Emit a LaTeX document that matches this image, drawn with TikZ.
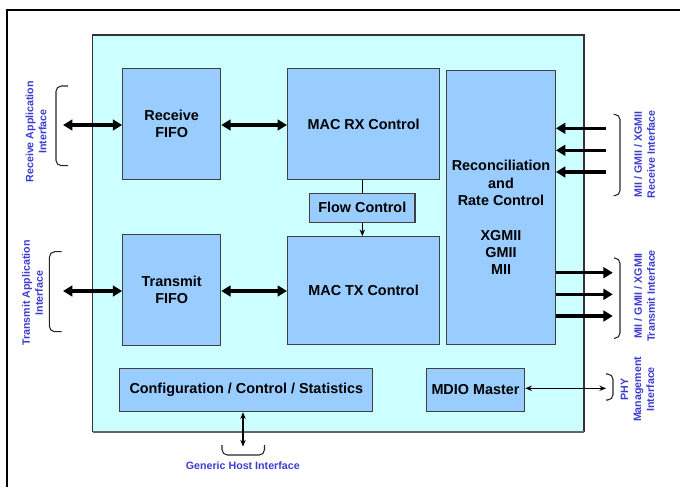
\documentclass[tikz,border=0pt]{standalone}
\usepackage{fontspec}
\setmainfont{Liberation Sans}
\usetikzlibrary{arrows.meta}
\definecolor{corecyan}{RGB}{204,255,255}
\definecolor{blockblue}{RGB}{153,204,255}
\definecolor{labelblue}{RGB}{60,60,210}

\begin{document}
\begin{tikzpicture}[x=0.75pt, y=-0.75pt,
	block/.style 2 args={draw=black!75, fill=blockblue, line width=0.8pt, inner sep=0pt, align=center,
		minimum width=#1*0.75pt, minimum height=#2*0.75pt, font=\fontsize{10.8}{13}\selectfont\bfseries},
	iflabel/.style={text=labelblue, align=center, font=\fontsize{8}{9.75}\selectfont\bfseries},
	bus/.style={line width=2.5pt, {Triangle[length=7pt,width=8pt]}-{Triangle[length=7pt,width=8pt]}},
	busin/.style={line width=2.5pt, -{Triangle[length=7pt,width=8pt]}},
	thin/.style={line width=0.8pt, {Stealth[length=5pt,width=4pt]}-{Stealth[length=5pt,width=4pt]}},
	brace/.style={line width=0.8pt, black!85, rounded corners=4pt}]
	\useasboundingbox (0,0) rectangle (680,487);
	\draw[line width=1.9pt] (7,487) -- (7,10) -- (680,10);
	\draw[draw=black!80, fill=corecyan, line width=1pt] (92.5,35) rectangle (584,431.5);
	\draw[black!60, line width=1.5pt] (92.5,431.5) -- (584,431.5);

	\node[block={98}{110.6}] (rxfifo) at (171.7,124) {Receive\\FIFO};
	\node[block={152.2}{110.6}] (macrx) at (363.6,124) {MAC RX Control};
	\node[block={105.4}{29}] (flow) at (362.3,207.8) {Flow Control};
	\node[block={98}{111}] (txfifo) at (171.7,289.8) {Transmit\\FIFO};
	\node[block={152.2}{108.3}] (mactx) at (363.6,290.8) {MAC TX Control};
	\node[block={108.8}{274.7}] (recon) at (501,207.6) {};
	\node[font=\fontsize{10.8}{13}\selectfont\bfseries, align=center] (recontext) at (501,217.5) {Reconciliation\\and\\Rate Control\\[13pt]XGMII\\GMII\\MII};
	\node[block={253.3}{43.4}] (config) at (246.3,390) {Configuration / Control / Statistics};
	\node[block={98.4}{43.4}] (mdio) at (475.5,390) {MDIO Master};

	\coordinate (rxapp) at (63,125);
	\coordinate (txapp) at (63,291);
	\coordinate (phy) at (606,388.3);
	\coordinate (host) at (243,446.5);
	\draw[bus] (rxapp) -- (rxfifo.west |- rxapp);
	\draw[bus] (rxfifo.east |- rxapp) -- (macrx.west |- rxapp);
	\draw[bus] (txapp) -- (txfifo.west |- txapp);
	\draw[bus] (txfifo.east |- txapp) -- (mactx.west |- txapp);
	\draw[line width=0.8pt] (flow.north |- macrx.south) -- (flow.north);
	\draw[line width=0.8pt, -{Stealth[length=5pt,width=4pt]}] (flow.south) -- (flow.south |- mactx.north);
	\foreach \y in {128.3,150.3,172} {
		\coordinate (mrx) at (606,\y);
		\draw[busin] (mrx) -- (recon.east |- mrx);
	}
	\foreach \y in {272.7,294.3,316} {
		\coordinate (mtx) at (612.8,\y);
		\draw[busin] (recon.east |- mtx) -- (mtx);
	}
	\draw[thin] (mdio.east |- phy) -- (phy);
	\draw[thin] (host |- config.south) -- (host);

	\draw[brace] (68,86) -- (56,86) -- (56,165.7) -- (68,165.7);
	\draw[brace] (61.6,251.7) -- (49.4,251.7) -- (49.4,331.7) -- (61.6,331.7);
	\draw[brace] (613.6,114.3) -- (620,114.3) -- (620,195.7) -- (613.6,195.7);
	\draw[brace] (614,258) -- (620,258) -- (620,338.3) -- (614,338.3);
	\draw[brace] (606,374) -- (613,374) -- (613,400) -- (606,400);
	\draw[brace] (222,445) -- (222,455) -- (264.5,455) -- (264.5,445);

	\node[iflabel, rotate=90] (rxapplabel) at (36,131.7) {Receive Application\\Interface};
	\node[iflabel, rotate=90] (txapplabel) at (32.5,293) {Transmit Application\\Interface};
	\node[iflabel, rotate=90] (mrxlabel) at (644.6,154.3) {MII / GMII / XGMII\\Receive Interface};
	\node[iflabel, rotate=90] (mtxlabel) at (644.6,296) {MII / GMII / XGMII\\Transmit Interface};
	\node[iflabel, rotate=90] (phylabel) at (637.5,389.3) {PHY\\Management\\Interface};
	\node[iflabel] (hostlabel) at (242.8,466) {Generic Host Interface};
\end{tikzpicture}
\end{document}
